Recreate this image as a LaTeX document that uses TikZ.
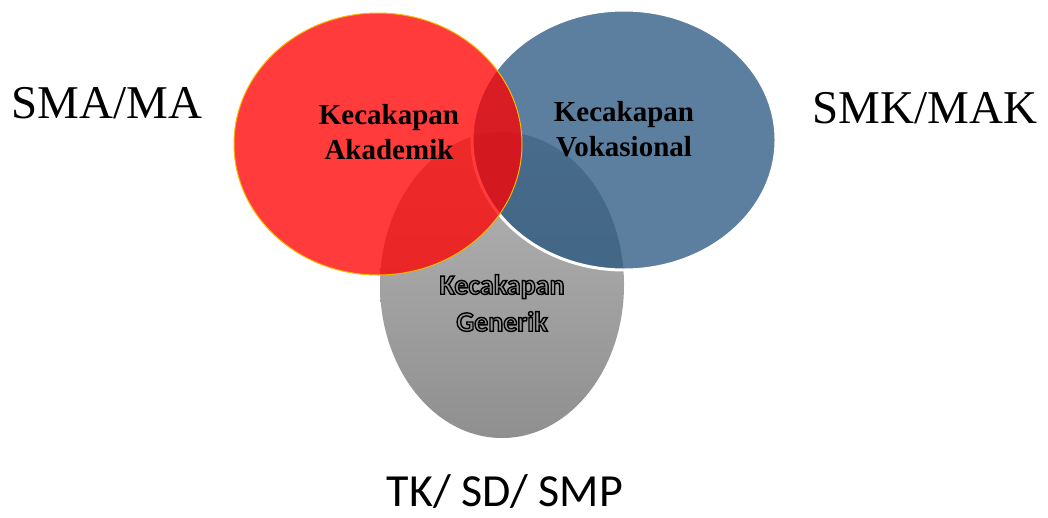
\documentclass[tikz,border=0pt]{standalone}
\usepackage{fontspec}
\setmainfont{Liberation Serif}
\newfontfamily\calfont{Carlito}
\definecolor{redfill}{RGB}{255,0,0}
\definecolor{bluefill}{RGB}{31,80,123}
\definecolor{redline}{RGB}{245,185,0}
\definecolor{graytop}{RGB}{182,182,182}
\definecolor{graybot}{RGB}{143,143,143}
\newcommand{\outlined}[1]{\special{pdf:literal direct 2 Tr 1.4 w 0 0 0 RG}#1\special{pdf:literal direct 0 Tr}}
\tikzset{
  circlabel/.style={font=\fontsize{29}{35}\selectfont\bfseries, align=center, text=black},
  genlabel/.style={font=\calfont\fontsize{28}{37}\selectfont\bfseries, align=center, text={rgb,255:red,150;green,150;blue,150}},
  lvl/.style={font=\fontsize{47}{50}\selectfont, text=black, inner sep=0pt},
}
\begin{document}
\begin{tikzpicture}[x=1pt,y=-1pt]
\useasboundingbox (0,0) rectangle (1048,517);
% gray ellipse
\shade[top color=graytop, bottom color=graybot] (502,285) ellipse [x radius=122, y radius=153];
% blue ellipse
\path[fill=bluefill, fill opacity=0.73, draw=white, line width=3pt] (624,140) ellipse [x radius=152, y radius=130];
% red ellipse
\path[fill=redfill, fill opacity=0.77, draw=redline, line width=1pt] (378,144) ellipse [x radius=144, y radius=131];
% labels inside
\node[circlabel] (aka) at (389,132) {Kecakapan\\Akademik};
\node[circlabel] (vok) at (624,129) {Kecakapan\\Vokasional};
\node[genlabel] (gen) at (502,303) {\outlined{Kecakapan}\\\outlined{Generik}};
% level labels
\node[lvl] (sma) at (107,103) {SMA/MA};
\node[lvl] (smk) at (925,108) {SMK/MAK};
\node[lvl, font=\calfont\fontsize{46}{50}\selectfont] (tk) at (505,491) {TK/ SD/ SMP};
\end{tikzpicture}
\end{document}
